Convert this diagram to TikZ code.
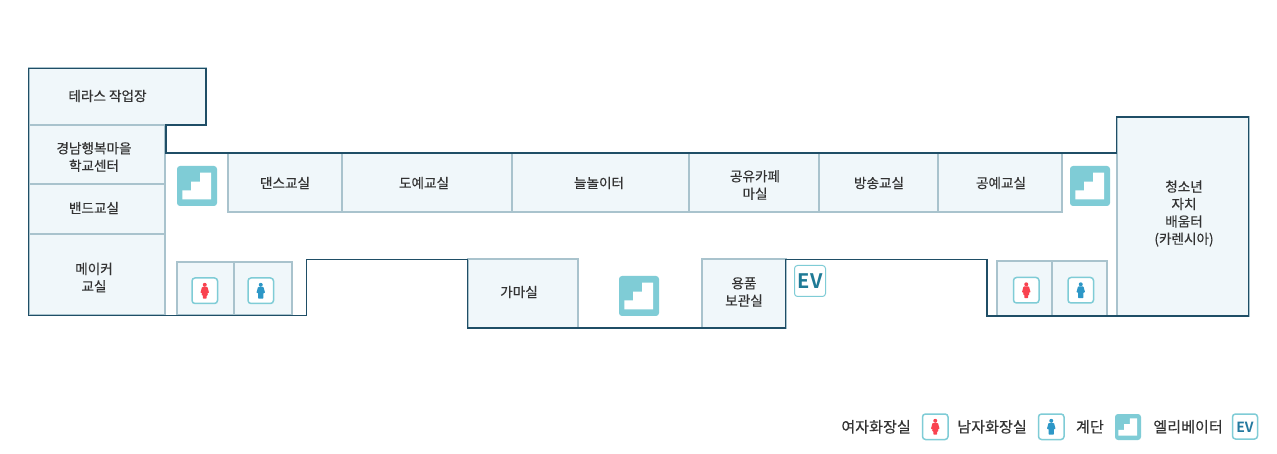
\documentclass[tikz,border=0pt]{standalone}
\usepackage{fontspec}
\setmainfont[FakeBold=0.25]{Noto Sans CJK KR}
\newfontfamily\evfont{Noto Sans CJK KR Bold}
\definecolor{roomfill}{HTML}{F0F7FA}
\definecolor{roomline}{HTML}{A9C3CD}
\definecolor{outline}{HTML}{1F4E66}
\definecolor{teal}{HTML}{7FCCD6}
\definecolor{wred}{HTML}{F9424F}
\definecolor{mblue}{HTML}{2D97C7}
\definecolor{evtext}{HTML}{1F7A96}
\definecolor{txt}{HTML}{333333}
\tikzset{
  x=1pt,y=-1pt,
  room/.style={draw=roomline,fill=roomfill,line width=2pt},
  wall/.style={draw=outline,line width=1.7pt,line join=miter},
  thinwall/.style={draw=outline,line width=1.1pt,line join=miter},
  label/.style={text=txt,font=\fontsize{13.6}{17.4}\selectfont,align=center,inner sep=0pt},
  legendtext/.style={text=txt,font=\fontsize{15.1}{18}\selectfont,inner sep=0pt,anchor=base east},
  iconbox/.style={draw=teal,fill=white,line width=1.5pt,rounded corners=3pt},
}
\newcommand{\stairicon}[3]{%
  \begin{scope}[shift={(#1,#2)},x=#3/40*1pt,y=-#3/40*1pt]
    \fill[teal,rounded corners=3pt] (0,0) rectangle (40,40);
    \fill[white] (5.3,33.3) -- (5.3,24.3) -- (14,24.3) -- (14,15.7) -- (23,15.7) -- (23,6.7) -- (34,6.7) -- (34,33.3) -- cycle;
  \end{scope}}
\newcommand{\womanicon}[2]{%
  \begin{scope}[shift={(#1,#2)}]
    \draw[iconbox] (0,0) rectangle (25.5,25.5);
    \fill[wred] (12.75,6.8) circle (2);
    \fill[wred,rounded corners=0.6pt] (10,9) -- (15.5,9) -- (17.1,15) -- (15.3,15) -- (16,17.2) -- (14.7,17.2) -- (14.7,20.6) -- (10.8,20.6) -- (10.8,17.2) -- (9.5,17.2) -- (10.2,15) -- (8.4,15) -- cycle;
  \end{scope}}
\newcommand{\manicon}[2]{%
  \begin{scope}[shift={(#1,#2)}]
    \draw[iconbox] (0,0) rectangle (25.5,25.5);
    \fill[mblue] (12.75,6.8) circle (2);
    \fill[mblue,rounded corners=0.6pt] (10,9) -- (15.5,9) -- (17.1,15) -- (15.3,15) -- (15.3,20.6) -- (10.2,20.6) -- (10.2,15) -- (8.4,15) -- cycle;
  \end{scope}}
\begin{document}
\begin{tikzpicture}
\useasboundingbox (0,0) rectangle (1277,454);
\fill[white] (0,0) rectangle (1277,454);
% rooms
\path[room] (28.5,68.5) rectangle (206,125);
\path[room] (28.5,125) rectangle (165.2,184);
\path[room] (28.5,184) rectangle (165.2,234.5);
\path[room] (28.5,234.5) rectangle (165.2,315.5);
\path[room] (176.5,262) rectangle (234,315.5);
\path[room] (234,262) rectangle (291.7,315.5);
\path[room] (228,153) rectangle (342,212.5);
\path[room] (342,153) rectangle (512,212.5);
\path[room] (512,153) rectangle (689.2,212.5);
\path[room] (689.2,153) rectangle (819.2,212.5);
\path[room] (819.2,153) rectangle (938.2,212.5);
\path[room] (938.2,153) rectangle (1062.2,212.5);
\path[room] (467.5,259) rectangle (578,328);
\path[room] (701.5,259.5) rectangle (785.5,328);
\path[room] (997.4,261.5) rectangle (1052,316);
\path[room] (1052,261.5) rectangle (1106.7,316);
\path[room] (1116.5,117) rectangle (1248.5,316);
% outline
\draw[wall] (467.5,259) -- (467.5,328) -- (785.5,328) -- (785.5,259.5) -- (987,259.5);
\draw[wall] (987,316) -- (1248.5,316) -- (1248.5,117) -- (1116.5,117) -- (1116.5,153) -- (166,153) -- (166,125) -- (206,125) -- (206,68.5) -- (28.5,68.5) -- (28.5,315.5) -- (292,315.5);
\draw[thinwall] (292,315.5) -- (306.5,315.5) -- (306.5,259.5) -- (467,259.5);
\draw[wall] (987,259) -- (987,316.7);
% labels
\node[label] (r1) at (107.5,96) {테라스 작업장};
\node[label] (r2) at (94,157) {경남행복마을\\학교센터};
\node[label] (r3) at (94,208) {밴드교실};
\node[label] (r4) at (94,277.5) {메이커\\교실};
\node[label] (r5) at (285,183) {댄스교실};
\node[label] (r6) at (424,183) {도예교실};
\node[label] (r7) at (599,183) {늘놀이터};
\node[label] (r8) at (755,185) {공유카페\\마실};
\node[label] (r9) at (879,183) {방송교실};
\node[label] (r10) at (1001,183) {공예교실};
\node[label] (r11) at (519,292) {가마실};
\node[label] (r12) at (744,292) {용품\\보관실};
\node[label] (r13) at (1184,213.5) {청소년\\자치\\배움터\\(카렌시아)};
% icons
\stairicon{177}{166}{40}
\stairicon{1070}{166}{40}
\stairicon{619}{276}{40}
\womanicon{192}{278}
\manicon{248}{278}
\womanicon{1013.5}{277.5}
\manicon{1068}{277.5}
\draw[draw=teal,fill=white,line width=1pt,rounded corners=3pt] (794.5,265.5) rectangle (825.5,296.5);
\node[text=evtext,font=\evfont\fontsize{20}{20}\selectfont,inner sep=0pt] (ev) at (810,281.5) {E\kern0.8pt V};
% legend
\node[legendtext] (l1) at (911,432.5) {여자화장실};
\womanicon{922.5}{414}
\node[legendtext] (l2) at (1027,432.5) {남자화장실};
\manicon{1038.5}{414}
\node[legendtext] (l3) at (1104,432.5) {계단};
\stairicon{1115}{414}{26}
\node[legendtext] (l4) at (1223,432.5) {엘리베이터};
\draw[iconbox] (1232.5,414) rectangle (1257.5,439);
\node[text=mblue!80!black,font=\evfont\fontsize{14}{14}\selectfont,inner sep=0pt] (ev2) at (1245,427) {EV};
\end{tikzpicture}
\end{document}
